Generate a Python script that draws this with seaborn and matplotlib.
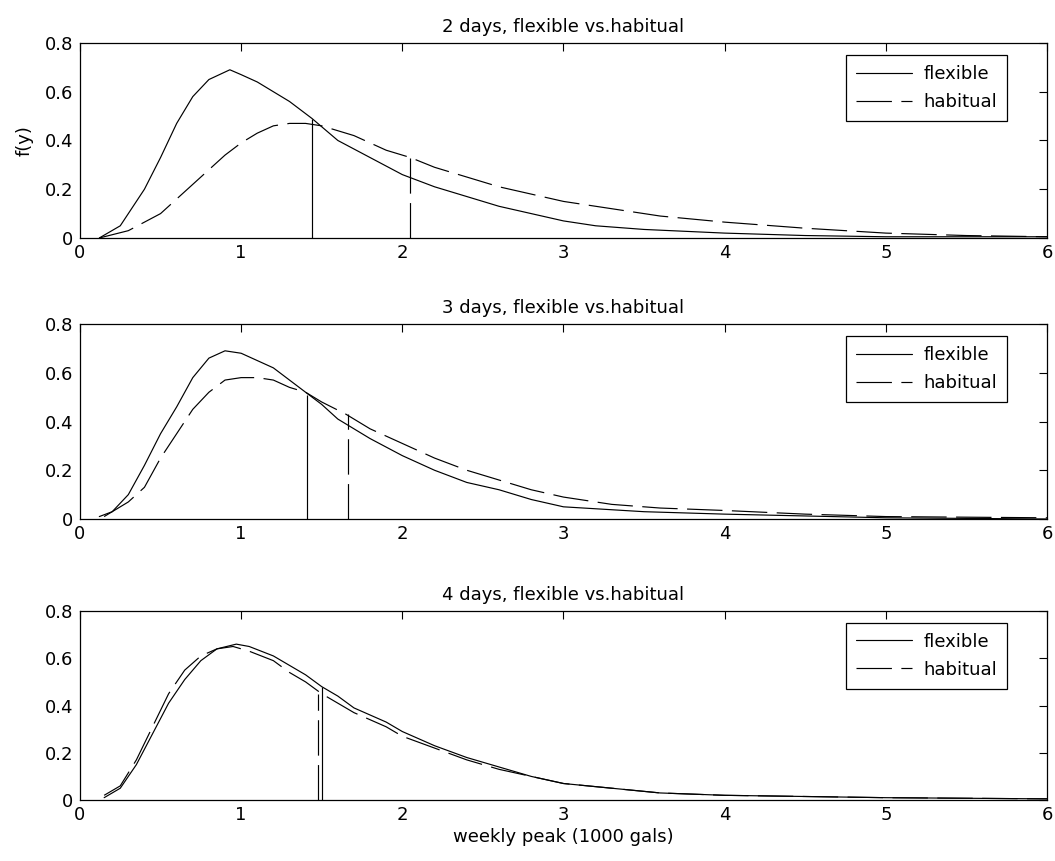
import numpy as np
import pandas as pd
import matplotlib
matplotlib.use("Agg")
import matplotlib.pyplot as plt
import seaborn as sns

sns.set_style("white")
plt.rcParams['font.family'] = ['DejaVu Sans']
plt.rcParams['text.color'] = 'black'
plt.rcParams['axes.labelcolor'] = 'black'

titles = ["2 days, flexible vs.habitual", "3 days, flexible vs.habitual", "4 days, flexible vs.habitual"]

# Panel 1 (2 days)
flex1_x = [0.12, 0.25, 0.4, 0.5, 0.6, 0.7, 0.8, 0.93, 1.0, 1.1, 1.2, 1.3, 1.44, 1.6, 1.8, 2.0, 2.2, 2.4, 2.6, 2.8, 3.0, 3.2, 3.5, 4.0, 4.5, 5.0, 6.0]
flex1_y = [0.0, 0.05, 0.2, 0.33, 0.47, 0.58, 0.65, 0.69, 0.67, 0.64, 0.6, 0.56, 0.49, 0.40, 0.33, 0.26, 0.21, 0.17, 0.13, 0.10, 0.07, 0.05, 0.035, 0.02, 0.01, 0.005, 0.005]
hab1_x = [0.12, 0.3, 0.5, 0.7, 0.9, 1.0, 1.1, 1.2, 1.3, 1.4, 1.5, 1.7, 1.9, 2.05, 2.2, 2.4, 2.6, 2.8, 3.0, 3.3, 3.6, 4.0, 4.5, 5.0, 5.5, 6.0]
hab1_y = [0.0, 0.03, 0.1, 0.22, 0.34, 0.39, 0.43, 0.46, 0.47, 0.47, 0.46, 0.42, 0.36, 0.33, 0.29, 0.25, 0.21, 0.18, 0.15, 0.12, 0.09, 0.065, 0.04, 0.02, 0.01, 0.005]
# Panel 2 (3 days)
flex2_x = [0.12, 0.2, 0.3, 0.4, 0.5, 0.6, 0.7, 0.8, 0.9, 1.0, 1.1, 1.2, 1.3, 1.4, 1.5, 1.6, 1.7, 1.8, 2.0, 2.2, 2.4, 2.6, 2.8, 3.0, 3.5, 4.0, 5.0, 6.0]
flex2_y = [0.01, 0.03, 0.1, 0.22, 0.35, 0.46, 0.58, 0.66, 0.69, 0.68, 0.65, 0.62, 0.57, 0.52, 0.47, 0.41, 0.37, 0.33, 0.26, 0.20, 0.15, 0.12, 0.08, 0.05, 0.03, 0.02, 0.005, 0.0]
hab2_x = [0.15, 0.3, 0.4, 0.5, 0.6, 0.7, 0.8, 0.9, 1.0, 1.1, 1.2, 1.3, 1.4, 1.5, 1.65, 1.8, 2.0, 2.2, 2.4, 2.6, 2.8, 3.0, 3.3, 3.6, 4.0, 4.5, 5.0, 6.0]
hab2_y = [0.01, 0.07, 0.13, 0.25, 0.35, 0.45, 0.52, 0.57, 0.58, 0.58, 0.57, 0.54, 0.52, 0.48, 0.43, 0.37, 0.31, 0.25, 0.20, 0.16, 0.12, 0.09, 0.06, 0.045, 0.035, 0.02, 0.01, 0.005]
# Panel 3 (4 days)
flex3_x = [0.15, 0.25, 0.35, 0.45, 0.55, 0.65, 0.75, 0.85, 0.97, 1.05, 1.2, 1.3, 1.4, 1.5, 1.6, 1.7, 1.9, 2.0, 2.2, 2.4, 2.6, 2.8, 3.0, 3.3, 3.6, 4.0, 5.0, 6.0]
flex3_y = [0.01, 0.05, 0.15, 0.28, 0.41, 0.51, 0.59, 0.64, 0.66, 0.65, 0.61, 0.57, 0.53, 0.48, 0.44, 0.39, 0.33, 0.29, 0.23, 0.18, 0.14, 0.10, 0.07, 0.05, 0.03, 0.02, 0.01, 0.005]
hab3_x = [0.15, 0.25, 0.35, 0.45, 0.55, 0.65, 0.75, 0.85, 0.95, 1.05, 1.2, 1.3, 1.4, 1.5, 1.6, 1.7, 1.9, 2.0, 2.2, 2.4, 2.6, 2.8, 3.0, 3.3, 3.6, 4.0, 5.0, 6.0]
hab3_y = [0.02, 0.06, 0.17, 0.31, 0.45, 0.55, 0.61, 0.64, 0.65, 0.63, 0.59, 0.54, 0.50, 0.45, 0.41, 0.37, 0.31, 0.27, 0.22, 0.17, 0.13, 0.10, 0.07, 0.05, 0.03, 0.02, 0.01, 0.005]

# Mean markers (vertical lines): x position and height
flex_mark_x = [1.44, 1.41, 1.50]
flex_mark_y = [0.49, 0.51, 0.48]
hab_mark_x = [2.05, 1.66, 1.48]
hab_mark_y = [0.33, 0.43, 0.45]

flex_x = [flex1_x, flex2_x, flex3_x]
flex_y = [flex1_y, flex2_y, flex3_y]
hab_x = [hab1_x, hab2_x, hab3_x]
hab_y = [hab1_y, hab2_y, hab3_y]

fig = plt.figure(figsize=(10.55, 8.61), dpi=100)
boxes = [[0.0758, 0.7236, 0.9166, 0.2265],
         [0.0758, 0.3972, 0.9166, 0.2265],
         [0.0758, 0.0708, 0.9166, 0.2195]]

FS = 13
dash = (30, 8)
lw = 0.85
for i in range(3):
    ax = fig.add_axes(boxes[i])
    sns.lineplot(x=flex_x[i], y=flex_y[i], ax=ax, color='black', linewidth=lw, label='flexible')
    sns.lineplot(x=hab_x[i], y=hab_y[i], ax=ax, color='black', linewidth=lw, label='habitual')
    ax.lines[-1].set_dashes(dash)
    ax.vlines([flex_mark_x[i]], 0, [flex_mark_y[i]], colors='black', linewidth=lw)
    ax.vlines([hab_mark_x[i]], 0, [hab_mark_y[i]], colors='black', linewidth=lw,
              linestyles=[(0, dash)])
    ax.set_xlim(0, 6)
    ax.set_ylim(0, 0.8)
    ax.set_xticks([0, 1, 2, 3, 4, 5, 6])
    ax.set_yticks([0, 0.2, 0.4, 0.6, 0.8])
    ax.set_xticklabels(['0', '1', '2', '3', '4', '5', '6'])
    ax.set_yticklabels(['0', '0.2', '0.4', '0.6', '0.8'])
    ax.tick_params(direction='in', length=6, width=0.8, top=True, right=True,
                   labelsize=FS, colors='black')
    ax.tick_params(axis='x', pad=4)
    ax.tick_params(axis='y', pad=5)
    for s in ax.spines.values():
        s.set_color('black')
        s.set_linewidth(0.9)
    ax.set_title(titles[i], fontsize=FS, pad=8, color='black')
    ax.set_xlabel('')
    ax.set_ylabel('')
    leg = ax.legend(loc='upper right', bbox_to_anchor=(0.9586, 0.938), borderaxespad=0,
                    fontsize=FS, handlelength=3.1, frameon=True,
                    fancybox=False, edgecolor='black', framealpha=1,
                    handletextpad=0.65, labelspacing=0.55, borderpad=0.55)
    leg.get_frame().set_linewidth(0.9)
    for t in leg.get_texts():
        t.set_color('black')
    if i == 0:
        ax.set_ylabel('f(y)', fontsize=FS, labelpad=8, color='black')
    if i == 2:
        ax.set_xlabel('weekly peak (1000 gals)', fontsize=FS, labelpad=3, color='black')

fig.savefig('out.png', dpi=100)
